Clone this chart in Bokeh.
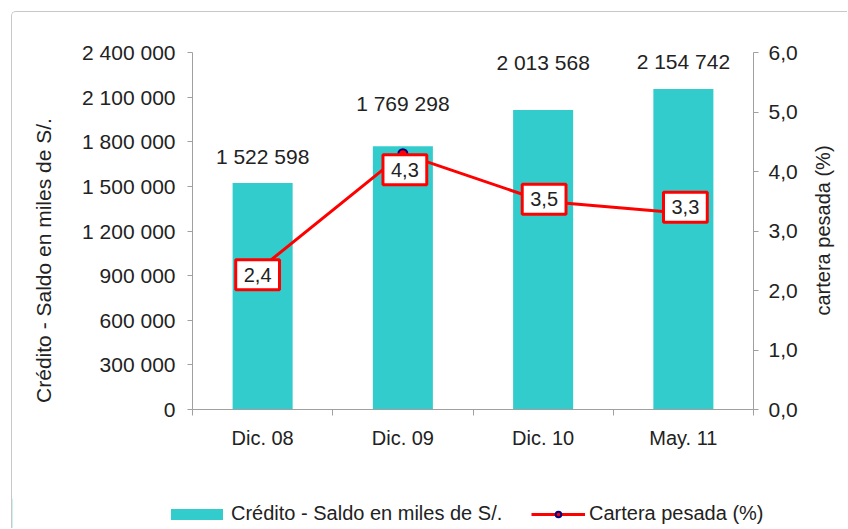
import math
from bokeh.plotting import figure
from bokeh.models import (Range1d, LinearAxis, FixedTicker, CustomJSTickFormatter,
                          Legend, LegendItem, Label, ColumnDataSource)
from bokeh.core.properties import value
from bokeh.embed import file_html
from bokeh.resources import INLINE

# ---- data ----
categories = ["Dic. 08", "Dic. 09", "Dic. 10", "May. 11"]
credito = [1522598, 1769298, 2013568, 2154742]
cartera = [2.4, 4.3, 3.5, 3.3]
credito_labels = ["1 522 598", "1 769 298", "2 013 568", "2 154 742"]
cartera_labels = ["2,4", "4,3", "3,5", "3,3"]
left_ticks = [0, 300000, 600000, 900000, 1200000, 1500000, 1800000, 2100000, 2400000]
right_ticks = [0, 1, 2, 3, 4, 5, 6]
left_title = "Crédito - Saldo en miles de S/."
right_title = "cartera pesada (%)"
legend_bar = "Crédito - Saldo en miles de S/."
legend_line = "Cartera pesada (%)"

# label placement offsets (screen px)
bar_label_dy = [-27, -43, -47, -27]
box_label_dx = [-5, 2, 1, 2]
box_label_dy = [8, 16, -2, -6]

FONT = "Liberation Sans"
TXT = "#222222"
AX = "#a0a0a0"
TEAL = "#33CCCC"
RED = "#FF0000"
NAVY = "#000080"
FRAME = "1px solid #c8c8c8"

xpos = [i + 0.5 for i in range(len(categories))]
src = ColumnDataSource(dict(x=xpos, credito=credito, cartera=cartera,
                            clab=credito_labels, plab=cartera_labels,
                            bdy=bar_label_dy, pdx=box_label_dx, pdy=box_label_dy))

p = figure(width=836, height=487, output_backend="svg", toolbar_location=None,
           x_range=Range1d(0, len(categories)), y_range=Range1d(0, left_ticks[-1]),
           min_border_left=180, min_border_right=95, min_border_top=40, min_border_bottom=90)
p.styles = {"margin-left": "11px", "margin-top": "11px",
            "border-left": FRAME, "border-top": FRAME,
            "border-top-left-radius": "5px"}
p.extra_y_ranges = {"pct": Range1d(0, right_ticks[-1])}
p.xgrid.visible = False
p.ygrid.visible = False
p.outline_line_color = None

# x axis
xa = p.xaxis[0]
xa.ticker = FixedTicker(ticks=xpos, minor_ticks=list(range(len(categories) + 1)))
xa.major_label_overrides = {xv: c for xv, c in zip(xpos, categories)}
xa.major_tick_line_color = None
xa.major_tick_out = 0
xa.major_tick_in = 0
xa.minor_tick_line_color = AX
xa.minor_tick_out = 6
xa.minor_tick_in = 0
xa.axis_line_color = AX
xa.major_label_standoff = 11
xa.major_label_text_font = FONT
xa.major_label_text_font_size = "20px"
xa.major_label_text_color = TXT

# left axis
ya = p.yaxis[0]
ya.ticker = FixedTicker(ticks=left_ticks)
ya.formatter = CustomJSTickFormatter(code="return tick.toFixed(0).replace(/\\B(?=(\\d{3})+(?!\\d))/g, ' ');")
ya.minor_tick_line_color = None
ya.major_tick_out = 5
ya.major_tick_in = 0
ya.major_tick_line_color = AX
ya.axis_line_color = AX
ya.major_label_standoff = 12
ya.major_label_text_font = FONT
ya.major_label_text_font_size = "21px"
ya.major_label_text_color = TXT

# right axis
ra = LinearAxis(y_range_name="pct")
ra.ticker = FixedTicker(ticks=right_ticks)
ra.formatter = CustomJSTickFormatter(code="return tick.toFixed(1).replace('.', ',');")
ra.minor_tick_line_color = None
ra.major_tick_out = 5
ra.major_tick_in = 0
ra.major_tick_line_color = AX
ra.axis_line_color = AX
ra.major_label_standoff = 10
ra.major_label_text_font = FONT
ra.major_label_text_font_size = "21px"
ra.major_label_text_color = TXT
p.add_layout(ra, "right")

# bars
p.vbar(x="x", top="credito", width=0.428, source=src, fill_color=TEAL, line_color=None)
p.text(x="x", y="credito", text="clab", source=src, y_offset="bdy",
       text_align="center", text_baseline="middle",
       text_font=value(FONT), text_font_size="21px", text_color=TXT)

# line
p.line(x="x", y="cartera", source=src, y_range_name="pct", line_color=RED, line_width=3)
p.scatter(x="x", y="cartera", source=src, y_range_name="pct", marker="circle",
          size=9, fill_color=RED, line_color=NAVY, line_width=2)
p.text(x="x", y="cartera", text="plab", source=src, y_range_name="pct",
       x_offset="pdx", y_offset="pdy", text_align="center", text_baseline="middle",
       text_font=value(FONT), text_font_size="20px", text_color=TXT,
       background_fill_color="white", border_line_color=RED,
       border_line_width=3, padding=8)

# legend strip (separate root figure whose frame is the whole strip)
lf = figure(width=828, height=30, output_backend="svg", toolbar_location=None,
            x_axis_type=None, y_axis_type=None, min_border=0,
            x_range=Range1d(0, 1), y_range=Range1d(0, 1))
lf.styles = {"margin-left": "11px", "border-left": FRAME}
lf.outline_line_color = None
lf.xgrid.visible = False
lf.ygrid.visible = False
# legend-only proxies kept outside the visible range
rb = lf.vbar(x=[-10], top=[1], width=0.1, fill_color=TEAL, line_color=None)
rl = lf.line(x=[-10, -9], y=[0, 0], line_color=RED, line_width=3)
rm = lf.scatter(x=[-10], y=[0], marker="circle", size=9, fill_color=RED,
                line_color=NAVY, line_width=2)

common = dict(padding=0, margin=0, spacing=0, border_line_color=None,
              background_fill_alpha=0, label_text_font=FONT,
              label_text_font_size="20px", label_text_color=TXT, orientation="horizontal")
lg1 = Legend(items=[LegendItem(label=legend_bar, renderers=[rb])],
             location=(152, 3), glyph_width=65, glyph_height=14, label_standoff=2, **common)
lg2 = Legend(items=[LegendItem(label=legend_line, renderers=[rl, rm])],
             location=(519, 3), glyph_width=54, glyph_height=14, label_standoff=4, **common)
lf.add_layout(lg1, "center")
lf.add_layout(lg2, "center")


# axis titles: small transparent overlay figures holding a rotated label
def title_fig(text, w, h, left, top, size):
    tf = figure(width=w, height=h, output_backend="svg", toolbar_location=None,
                x_axis_type=None, y_axis_type=None, min_border=0,
                x_range=Range1d(0, 1), y_range=Range1d(0, 1))
    tf.styles = {"position": "absolute", "left": f"{left}px", "top": f"{top}px"}
    tf.outline_line_color = None
    tf.background_fill_alpha = 0
    tf.border_fill_alpha = 0
    tf.xgrid.visible = False
    tf.ygrid.visible = False
    tf.add_layout(Label(x=0.5, y=0.5, text=text, angle=math.pi / 2,
                        text_align="center", text_baseline="middle",
                        text_font=FONT, text_font_size=size, text_color=TXT))
    return tf


tl = title_fig(left_title, 32, 310, 27, 105, "21px")
tr = title_fig(right_title, 32, 220, 806, 120, "20px")

open("out.html", "w").write(file_html([p, lf, tl, tr], INLINE))
